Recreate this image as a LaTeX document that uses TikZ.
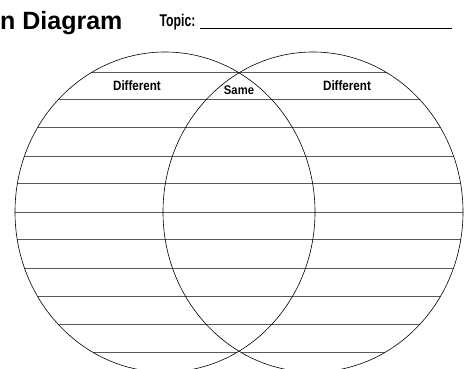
\documentclass[tikz,border=0pt]{standalone}
\usepackage{fontspec}
\setmainfont{Liberation Sans}
\usetikzlibrary{calc}

\begin{document}
\begin{tikzpicture}[x=1pt,y=-1pt,
  label/.style={inner sep=0pt,anchor=base,font=\bfseries},
  ring/.style={draw=black,line width=0.6pt},
  rule/.style={draw=black!65,line width=0.9pt}]

\def\RX{150}
\def\RY{160}

\useasboundingbox (0,0) rectangle (471,369);

% heading
\node[label,anchor=base west,font=\bfseries\fontsize{25}{25}\selectfont] (title) at (0,29.5) {n Diagram};
\node[label,anchor=base west,xscale=0.72,font=\bfseries\fontsize{17}{17}\selectfont] (topic) at (159.5,27) {Topic:};
\coordinate (blank) at (452,28);
\draw[line width=0.8pt] (200,28) -- (blank);

% centres
\coordinate (lc) at (165,212);
\coordinate (rc) at (313,212);

% writing lines, kept inside the two circles
\begin{scope}
\clip (lc) ellipse ({\RX} and {\RY}) (rc) ellipse ({\RX} and {\RY});
\foreach \y in {72,99,127,156,183,212,239,268,296,324,352}
  \draw[rule] (0,\y) -- (471,\y);
\end{scope}

\draw[ring] (lc) ellipse ({\RX} and {\RY});
\draw[ring] (rc) ellipse ({\RX} and {\RY});

% headings inside
\node[label,xscale=0.86,font=\bfseries\fontsize{13.5}{13.5}\selectfont] (diffL) at (137,90) {Different};
\node[label,xscale=0.86,font=\bfseries\fontsize{13.5}{13.5}\selectfont] (diffR) at (347,90) {Different};
\node[label,xscale=0.9,font=\bfseries\fontsize{12.5}{12.5}\selectfont] (same) at (239,95) {Same};

\end{tikzpicture}
\end{document}
